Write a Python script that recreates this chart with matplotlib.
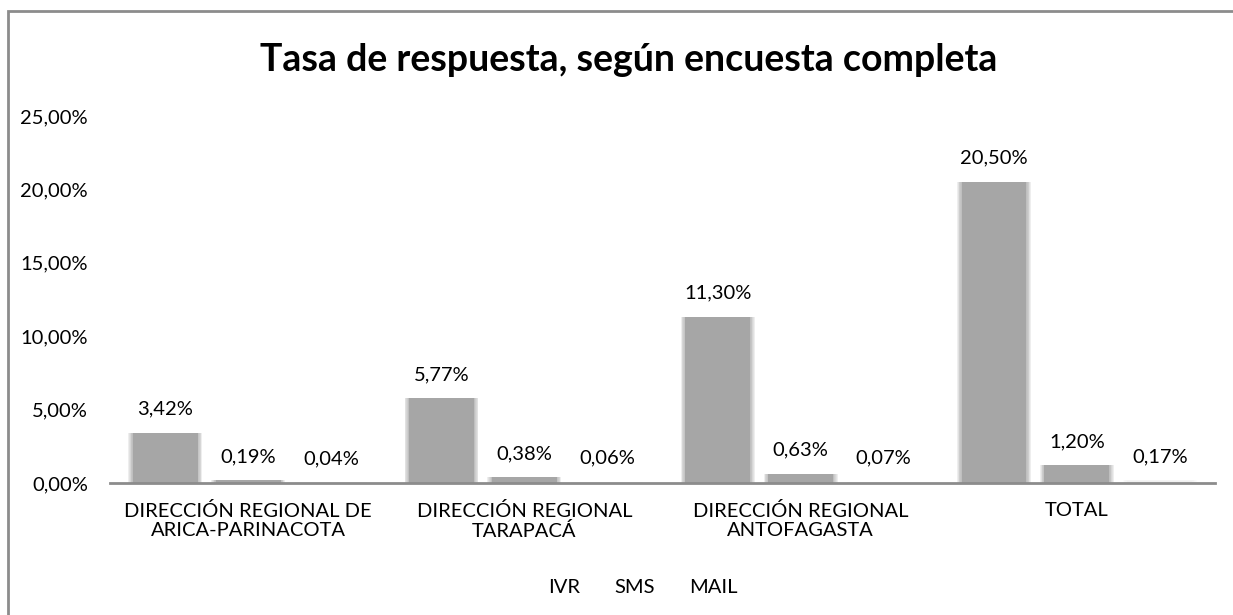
import matplotlib
matplotlib.use("Agg")
import matplotlib.pyplot as plt
from matplotlib.patches import Rectangle
from matplotlib.lines import Line2D
import numpy as np

plt.rcParams['font.family'] = ['Lato', 'DejaVu Sans']

categories = ["DIRECCIÓN REGIONAL DE\nARICA-PARINACOTA",
              "DIRECCIÓN REGIONAL\nTARAPACÁ",
              "DIRECCIÓN REGIONAL\nANTOFAGASTA",
              "TOTAL"]
series_names = ["IVR", "SMS", "MAIL"]
ivr = [3.42, 5.77, 11.30, 20.50]
sms = [0.19, 0.38, 0.63, 1.20]
mail = [0.04, 0.06, 0.07, 0.17]
yticks = [0, 5, 10, 15, 20, 25]
title = "Tasa de respuesta, según encuesta completa"

W, H = 1233, 615
fig = plt.figure(figsize=(W / 100, H / 100), dpi=100)
fig.patch.set_facecolor("white")

# outer chart border
fig.patches.append(Rectangle((8 / W, -0.05), 1.2, (H - 11) / H + 0.05,
                             transform=fig.transFigure, fill=False,
                             edgecolor="#8c8c8c", linewidth=2))

left, right = 110 / W, 1215 / W
bottom, top = (H - 483) / H, (H - 116) / H
ax = fig.add_axes([left, bottom, right - left, top - bottom])

x = np.arange(len(categories))
offsets = [-0.30, 0.0, 0.30]
width = 0.235
colors = ["#a6a6a6", "#a6a6a6", "#f1f1f1"]
FS = 14.5

def fmt(v):
    return f"{v:.2f}".replace(".", ",") + "%"

for vals, off, col in zip([ivr, sms, mail], offsets, colors):
    # soft blurred edge
    for k in np.linspace(0.016, 0.002, 6):
        ax.bar(x + off, [v + k * 0.6 for v in vals], width + 2 * k, color=col,
               alpha=0.18, linewidth=0, zorder=1)
    ax.bar(x + off, vals, width, color=col, linewidth=0, zorder=2)
    for xi, v in zip(x + off, vals):
        ax.annotate(fmt(v), (xi, v), xytext=(0, 11), textcoords="offset points",
                    ha="center", va="bottom", fontsize=FS, color="#000000")

ax.set_xlim(-0.5, len(categories) - 0.5)
ax.set_ylim(0, 25)
ax.set_yticks(yticks)
ax.set_yticklabels([fmt(t) for t in yticks], fontsize=FS)
ax.set_xticks(x)
ax.set_xticklabels(categories, fontsize=FS, linespacing=1.1)
ax.tick_params(axis="both", length=0)
ax.tick_params(axis="x", pad=14)
ax.tick_params(axis="y", pad=16)
for s in ["top", "right", "left"]:
    ax.spines[s].set_visible(False)
ax.spines["bottom"].set_color("#8c8c8c")
ax.spines["bottom"].set_linewidth(2)
ax.spines["bottom"].set_zorder(3)

fig.text(0.51, (H - 60) / H, title, ha="center", va="center",
         fontsize=27, fontweight="bold")

handles = [Line2D([], [], linestyle="none") for _ in series_names]
fig.legend(handles, series_names, loc="center", bbox_to_anchor=(643 / W, (H - 587) / H),
           ncol=3, frameon=False, fontsize=FS, handlelength=0, handletextpad=0,
           columnspacing=1.7)

fig.savefig("out.png", dpi=100)
